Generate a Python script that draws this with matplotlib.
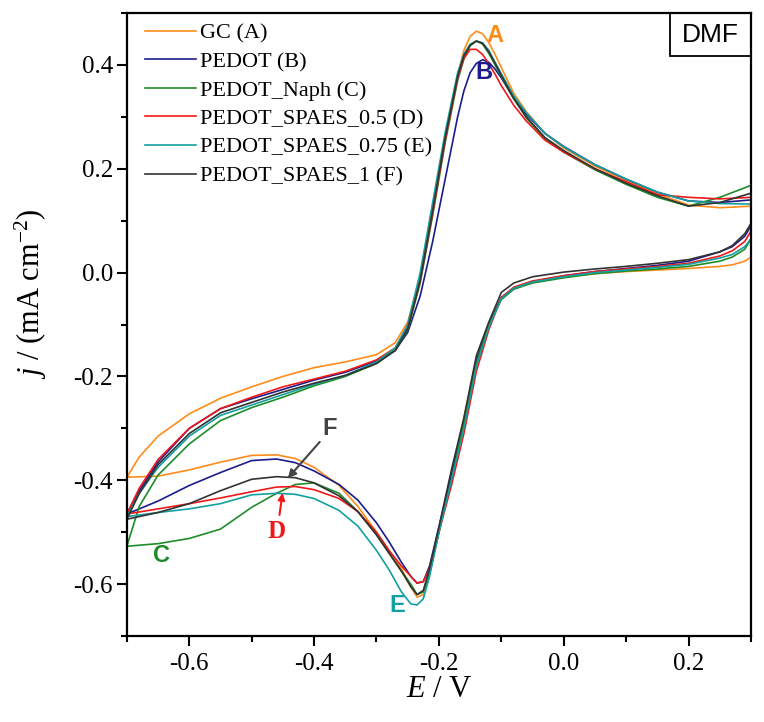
import matplotlib
matplotlib.use("Agg")
import matplotlib.pyplot as plt
from matplotlib.ticker import MultipleLocator
from matplotlib.patches import Rectangle

plt.rcParams["font.family"] = "Liberation Serif"
plt.rcParams["mathtext.fontset"] = "custom"
plt.rcParams["mathtext.rm"] = "Liberation Serif"
plt.rcParams["mathtext.it"] = "Liberation Serif:italic"
plt.rcParams["axes.unicode_minus"] = False

# potential grids (V) for the forward (anodic) and reverse (cathodic) scans
E_fwd = [-0.70, -0.68, -0.65, -0.60, -0.55, -0.50, -0.45, -0.40, -0.35, -0.30,
         -0.27, -0.25, -0.23, -0.21, -0.19, -0.17, -0.16, -0.15, -0.14, -0.13,
         -0.12, -0.11, -0.10, -0.08, -0.06, -0.03, 0.00, 0.05, 0.10, 0.15,
         0.20, 0.25, 0.30]
E_rev = [0.30, 0.29, 0.27, 0.25, 0.20, 0.15, 0.10, 0.05, 0.00, -0.05,
         -0.08, -0.10, -0.12, -0.14, -0.16, -0.18, -0.20, -0.215, -0.225, -0.235,
         -0.245, -0.26, -0.28, -0.30, -0.33, -0.36, -0.40, -0.43, -0.46, -0.50,
         -0.55, -0.60, -0.65, -0.70]

labels = ["GC (A)", "PEDOT (B)", "PEDOT_Naph (C)", "PEDOT_SPAES_0.5 (D)",
          "PEDOT_SPAES_0.75 (E)", "PEDOT_SPAES_1 (F)"]
colors = ["#FF8C1A", "#1C1C8C", "#1E8C2A", "#F01818", "#12A0A0", "#333333"]

# current density (mA cm-2), forward scan
j_fwd_gc = [-0.394, -0.355, -0.315, -0.272, -0.242, -0.220, -0.200, -0.183, -0.172, -0.158,
            -0.135, -0.095, -0.010, 0.120, 0.260, 0.380, 0.428, 0.455, 0.465, 0.460,
            0.443, 0.420, 0.395, 0.345, 0.310, 0.268, 0.240, 0.205, 0.178, 0.152,
            0.130, 0.125, 0.128]
j_fwd_pedot = [-0.465, -0.420, -0.365, -0.300, -0.262, -0.243, -0.225, -0.207, -0.192, -0.170,
               -0.150, -0.115, -0.045, 0.060, 0.180, 0.300, 0.350, 0.385, 0.403, 0.410,
               0.405, 0.392, 0.375, 0.335, 0.305, 0.268, 0.243, 0.208, 0.180, 0.155,
               0.138, 0.135, 0.140]
j_fwd_naph = [-0.527, -0.450, -0.390, -0.330, -0.285, -0.260, -0.240, -0.218, -0.200, -0.175,
              -0.150, -0.110, -0.020, 0.110, 0.250, 0.370, 0.412, 0.437, 0.446, 0.440,
              0.422, 0.400, 0.378, 0.335, 0.298, 0.258, 0.232, 0.198, 0.170, 0.145,
              0.128, 0.145, 0.168]
j_fwd_s05 = [-0.465, -0.415, -0.360, -0.300, -0.262, -0.240, -0.220, -0.205, -0.190, -0.168,
             -0.145, -0.105, -0.015, 0.115, 0.255, 0.375, 0.412, 0.430, 0.430, 0.420,
             0.402, 0.382, 0.360, 0.322, 0.292, 0.255, 0.232, 0.200, 0.175, 0.150,
             0.145, 0.142, 0.145]
j_fwd_s075 = [-0.470, -0.425, -0.375, -0.315, -0.275, -0.255, -0.235, -0.215, -0.198, -0.172,
              -0.145, -0.100, 0.000, 0.135, 0.270, 0.385, 0.420, 0.440, 0.446, 0.442,
              0.428, 0.405, 0.383, 0.340, 0.308, 0.268, 0.242, 0.208, 0.180, 0.155,
              0.138, 0.133, 0.132]
j_fwd_s1 = [-0.475, -0.425, -0.370, -0.310, -0.270, -0.250, -0.230, -0.213, -0.198, -0.175,
            -0.150, -0.108, -0.015, 0.120, 0.260, 0.378, 0.418, 0.438, 0.446, 0.442,
            0.425, 0.403, 0.380, 0.335, 0.300, 0.260, 0.235, 0.200, 0.172, 0.148,
            0.128, 0.135, 0.153]

# current density (mA cm-2), reverse scan
j_rev_gc = [0.030, 0.022, 0.015, 0.012, 0.008, 0.005, 0.002, -0.002, -0.008, -0.018,
            -0.030, -0.048, -0.098, -0.165, -0.280, -0.390, -0.500, -0.580, -0.620, -0.625,
            -0.605, -0.570, -0.535, -0.500, -0.450, -0.410, -0.375, -0.358, -0.351, -0.352,
            -0.365, -0.380, -0.392, -0.394]
j_rev_pedot = [0.090, 0.070, 0.050, 0.040, 0.022, 0.014, 0.008, 0.002, -0.006, -0.018,
               -0.030, -0.048, -0.100, -0.170, -0.290, -0.390, -0.490, -0.565, -0.595, -0.598,
               -0.585, -0.558, -0.518, -0.482, -0.438, -0.408, -0.382, -0.366, -0.359, -0.362,
               -0.385, -0.410, -0.440, -0.465]
j_rev_naph = [0.065, 0.045, 0.030, 0.022, 0.012, 0.007, 0.003, -0.002, -0.010, -0.020,
              -0.032, -0.052, -0.102, -0.175, -0.290, -0.400, -0.500, -0.580, -0.615, -0.620,
              -0.600, -0.575, -0.540, -0.505, -0.460, -0.425, -0.405, -0.408, -0.425, -0.452,
              -0.494, -0.512, -0.522, -0.527]
j_rev_s05 = [0.080, 0.060, 0.042, 0.032, 0.018, 0.012, 0.007, 0.002, -0.006, -0.016,
             -0.028, -0.048, -0.110, -0.190, -0.310, -0.410, -0.500, -0.570, -0.595, -0.598,
             -0.585, -0.565, -0.535, -0.500, -0.460, -0.435, -0.418, -0.412, -0.413, -0.422,
             -0.434, -0.445, -0.455, -0.465]
j_rev_s075 = [0.065, 0.050, 0.035, 0.028, 0.016, 0.010, 0.005, 0.000, -0.008, -0.018,
              -0.030, -0.050, -0.105, -0.180, -0.300, -0.400, -0.500, -0.585, -0.628, -0.640,
              -0.638, -0.615, -0.572, -0.535, -0.488, -0.458, -0.435, -0.427, -0.425, -0.428,
              -0.445, -0.455, -0.462, -0.470]
j_rev_s1 = [0.095, 0.075, 0.052, 0.040, 0.025, 0.018, 0.012, 0.007, 0.001, -0.008,
            -0.020, -0.038, -0.095, -0.160, -0.280, -0.380, -0.490, -0.570, -0.612, -0.620,
            -0.605, -0.575, -0.540, -0.505, -0.460, -0.430, -0.405, -0.395, -0.393, -0.398,
            -0.420, -0.445, -0.462, -0.475]

j_fwd = [j_fwd_gc, j_fwd_pedot, j_fwd_naph, j_fwd_s05, j_fwd_s075, j_fwd_s1]
j_rev = [j_rev_gc, j_rev_pedot, j_rev_naph, j_rev_s05, j_rev_s075, j_rev_s1]

fig = plt.figure(figsize=(7.64, 7.22), dpi=100)
ax = fig.add_axes([0.166, 0.119, 0.817, 0.863])

for lab, col, jf, jr in zip(labels, colors, j_fwd, j_rev):
    ax.plot(E_fwd + E_rev, jf + jr, color=col, lw=1.2, label=lab)

ax.set_xlim(-0.7, 0.3)
ax.set_ylim(-0.7, 0.5)
ax.xaxis.set_minor_locator(MultipleLocator(0.1))
ax.yaxis.set_minor_locator(MultipleLocator(0.1))
ax.set_yticks([-0.6, -0.4, -0.2, 0.0, 0.2, 0.4])
ax.set_xticks([-0.6, -0.4, -0.2, 0.0, 0.2])
ax.set_xticklabels(["-0.6", "-0.4", "-0.2", "0.0", "0.2"])
ax.set_yticklabels(["-0.6", "-0.4", "-0.2", "0.0", "0.2", "0.4"])
ax.tick_params(which="major", direction="out", length=7, width=1.5, labelsize=18, pad=5)
ax.tick_params(which="minor", direction="out", length=4, width=1.5)
ax.tick_params(axis="y", which="major", pad=3)
for s in ax.spines.values():
    s.set_linewidth(1.6)

ax.set_xlabel("$E$ / V", fontsize=22, labelpad=0)
ax.set_ylabel("$j$ / (mA cm$^{-2}$)", fontsize=22)
ax.yaxis.set_label_coords(-0.125, 0.55)

ax.legend(loc="upper left", frameon=False, fontsize=16, handlelength=2.3,
          handletextpad=0.2, labelspacing=0.36, borderaxespad=0.05,
          bbox_to_anchor=(0.013, 1.0))

# solvent box
ax.add_patch(Rectangle((0.87, 0.931), 0.13, 0.069, transform=ax.transAxes,
                       fill=False, lw=1.3, color="black"))
ax.text(0.935, 0.965, "DMF", transform=ax.transAxes, ha="center", va="center",
        fontsize=19, family="Liberation Sans")

# curve letters
sans = dict(family="Liberation Sans", fontweight="bold", fontsize=17,
            ha="center", va="center")
ax.text(-0.110, 0.457, "A", color=colors[0], **sans)
ax.text(-0.128, 0.385, "B", color=colors[1], **sans)
ax.text(-0.644, -0.545, "C", color=colors[2], **sans)
ax.text(-0.267, -0.642, "E", color=colors[4], **sans)
ax.text(-0.375, -0.300, "F", color="#444444", **sans)
ax.text(-0.460, -0.498, "D", color=colors[3], fontsize=18, fontweight="bold",
        ha="center", va="center")

ax.annotate("", xy=(-0.445, -0.400), xytext=(-0.388, -0.322),
            arrowprops=dict(arrowstyle="-|>", color="#444444", lw=1.5, mutation_scale=12))
ax.annotate("", xy=(-0.450, -0.419), xytext=(-0.456, -0.472),
            arrowprops=dict(arrowstyle="-|>", color=colors[3], lw=1.5, mutation_scale=10))

fig.savefig("out.png", dpi=100)
